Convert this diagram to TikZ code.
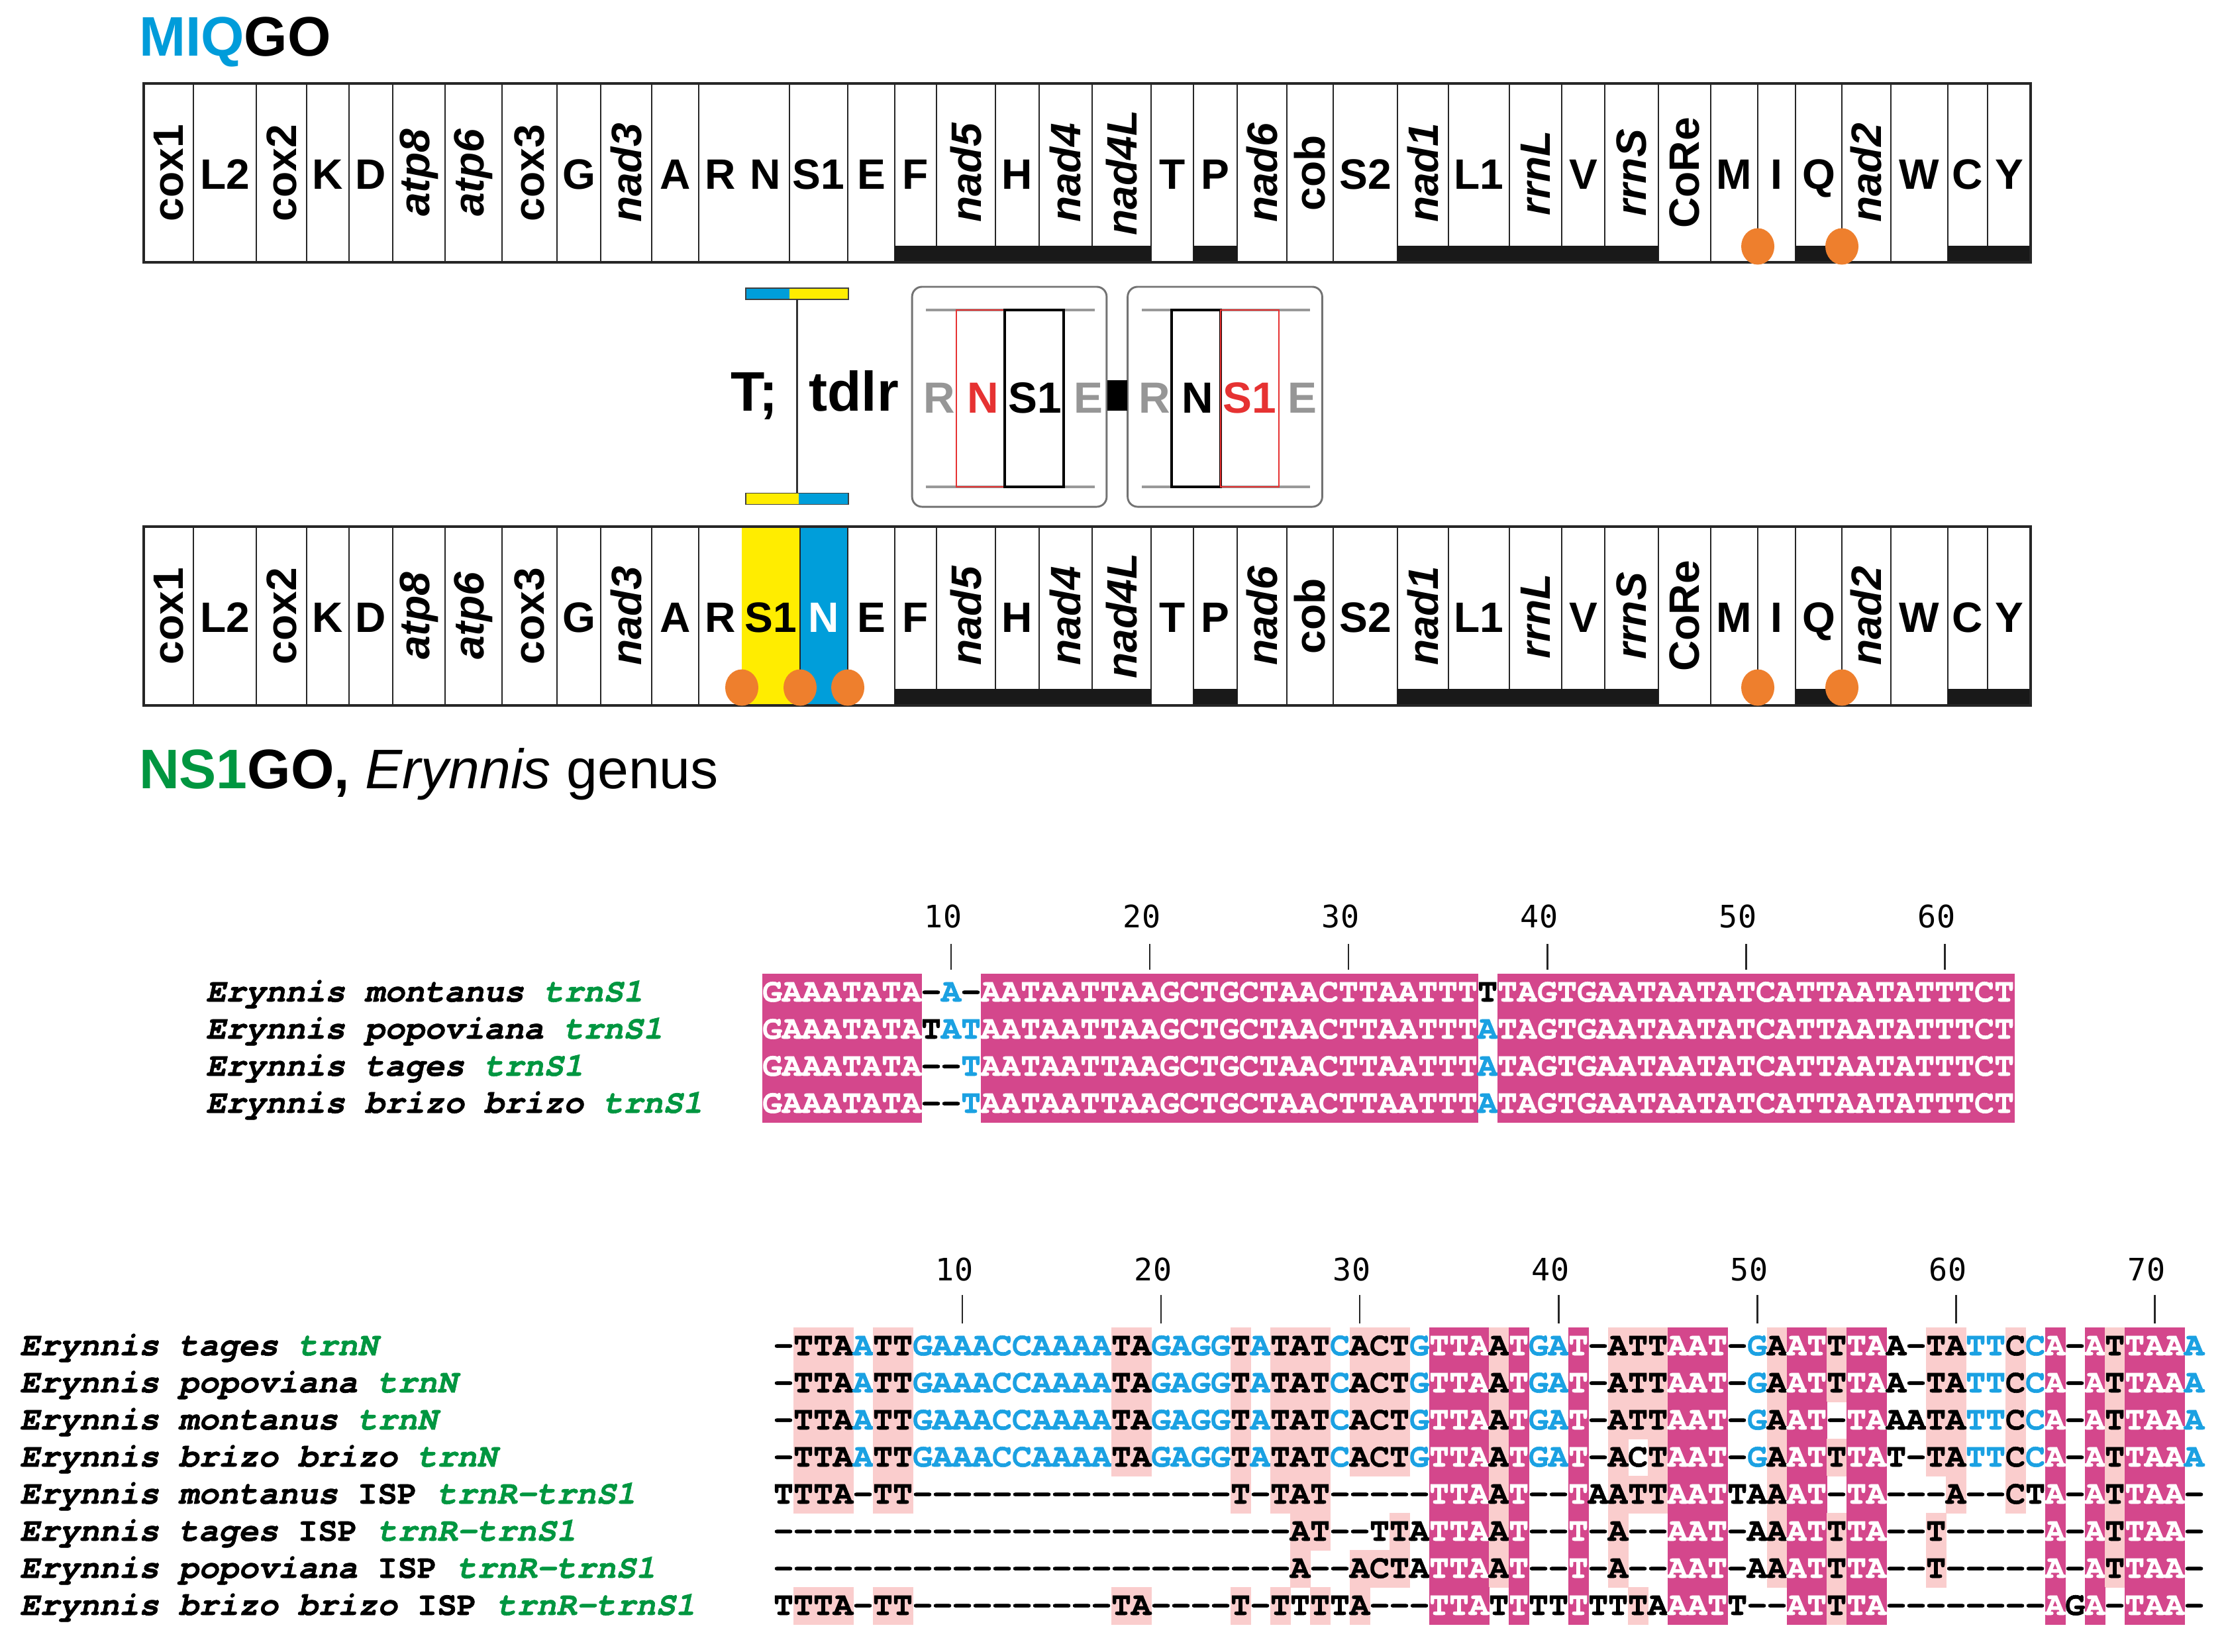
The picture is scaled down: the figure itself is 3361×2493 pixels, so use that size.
\documentclass[tikz,border=0pt]{standalone}
\usepackage{fontspec}
\setmainfont{Liberation Sans}
\newfontfamily\seqfont{texgyrecursor}[Extension=.otf,UprightFont=*-regular,BoldFont=*-bold,ItalicFont=*-italic,BoldItalicFont=*-bolditalic,BoldFeatures={FakeBold=1.2},BoldItalicFeatures={FakeBold=1.2}]
\newfontfamily\numfont{DejaVu Sans Mono}
\definecolor{miqblue}{RGB}{0,156,218}
\definecolor{nsgreen}{RGB}{0,150,64}
\definecolor{lblgreen}{RGB}{0,150,64}
\definecolor{seqmag}{RGB}{212,71,140}
\definecolor{seqpink}{RGB}{250,205,205}
\definecolor{seqblue}{RGB}{27,161,226}
\definecolor{dotorange}{RGB}{238,127,45}
\definecolor{yel}{RGB}{255,237,0}
\definecolor{nblue}{RGB}{0,158,218}
\definecolor{boxred}{RGB}{230,50,50}
\definecolor{lgray}{RGB}{150,150,150}
\makeatletter
\newcount\seq@col
\newcommand\seqrow[5]{%
  \def\seq@name{#1}\def\seq@x{#2}\def\seq@y{#3}\seq@col=0
  \seq@loop#4\@nil#5\@nil}
\def\seq@loop#1#2\@nil#3#4\@nil{%
  \advance\seq@col by 1
  \seq@cell{#1}{#3}%
  \if\relax\detokenize{#2}\relax\else\seq@loop#2\@nil#4\@nil\fi}
\def\seq@none{none}
\def\seqst@n{\def\seq@bg{none}\def\seq@fg{black}}
\def\seqst@p{\def\seq@bg{seqpink}\def\seq@fg{black}}
\def\seqst@m{\def\seq@bg{seqmag}\def\seq@fg{white}}
\def\seqst@b{\def\seq@bg{none}\def\seq@fg{seqblue}}
\def\seq@cell#1#2{%
  \pgfmathsetmacro\seq@cx{\seq@x+30*(\the\seq@col-1)}%
  \csname seqst@#2\endcsname
  \ifx\seq@bg\seq@none\else
    \fill[\seq@bg] (\seq@cx,\seq@y) rectangle ++(30.5,56.5);%
  \fi
  \node[seqchar,text=\seq@fg] (\seq@name-\the\seq@col) at (\seq@cx+15,\seq@y+42) {#1};}
\makeatother
\def\commongenes{217/292/cox1/r, 292/387/L2/u, 387/463/cox2/r, 463/527/K/u, 527/593/D/u, 593/672/atp8/i, 672/758/atp6/i, 758/841/cox3/r, 841/907/G/u, 907/984/nad3/i, 984/1055/A/u, 1055/1120/R/u, 1280/1351/E/u, 1351/1414/F/u, 1414/1503/nad5/i, 1503/1569/H/u, 1569/1649/nad4/i, 1649/1738/nad4L/i, 1738/1802/T/u, 1802/1868/P/u, 1868/1943/nad6/i, 1943/2013/cob/r, 2013/2110/S2/u, 2110/2187/nad1/i, 2187/2279/L1/u, 2279/2358/rrnL/i, 2358/2423/V/u, 2423/2504/rrnS/i, 2504/2583/CoRe/r, 2583/2654/M/u, 2654/2711/I/u, 2711/2781/Q/u, 2781/2855/nad2/i, 2855/2941/W/u, 2941/3001/C/u, 3001/3066/Y/u}
\begin{document}
\begin{tikzpicture}[x=0.24pt,y=-0.24pt,
  every node/.style={inner sep=0pt, outer sep=0pt},
  seqchar/.style={font=\seqfont\bfseries\fontsize{12}{12}\selectfont, anchor=base},
  rowlabel/.style={font=\seqfont\bfseries\fontsize{12}{12}\selectfont, anchor=base west},
  ticknum/.style={font=\numfont\fontsize{11.2}{12}\selectfont, anchor=base},
  tickline/.style={line width=0.7pt, black!85},
  genelabel/.style={font=\bfseries\fontsize{15.4}{16}\selectfont},
  gl-u/.style={anchor=base, yshift=-5.76pt},
  gl-r/.style={rotate=90, anchor=center},
  gl-i/.style={rotate=90, anchor=center, font=\bfseries\itshape\fontsize{15.4}{16}\selectfont},
  divider/.style={line width=0.6pt, black!85},
  outer/.style={line width=1.1pt, black!85},
  barblack/.style={fill=black!90},
  boxline/.style={line width=1pt, black!40},
  redrect/.style={draw=boxred, line width=0.55pt},
  blackrect/.style={draw=black, line width=0.75pt},
  boxlab/.style={font=\bfseries\fontsize{15.8}{16}\selectfont, anchor=base},
  midtext/.style={font=\bfseries\fontsize{20.2}{22}\selectfont, anchor=base},
  rbox/.style={draw=black!55, line width=0.7pt, rounded corners=3.6pt, minimum width=70.5pt, minimum height=79.7pt},
  brk/.style={draw=black!75, line width=0.35pt, minimum width=37.2pt, minimum height=4.1pt}
]
\useasboundingbox (0,0) rectangle (3361,2493);

% titles
\node[anchor=base west, font=\bfseries\fontsize{20.2}{22}\selectfont] (title) at (210,84) {\color{miqblue}MIQ\color{black}GO};
\node[anchor=base west, font=\fontsize{20.2}{22}\selectfont] (title2) at (210,1190) {\bfseries\color{nsgreen}NS1\color{black}GO, \mdseries\itshape Erynnis \upshape genus};

% top gene bar
\begin{scope}[shift={(0,126)}]
  \foreach \xa/\xb/\lab/\kind in \commongenes {
    \draw[divider] (\xa,0) -- (\xa,270);
    \node[genelabel,gl-\kind] (top-\lab) at ({(\xa+\xb)/2},135) {\lab};
  }
  \draw[divider] (1192,0) -- (1192,270);
  \node[genelabel,gl-u] (top-N) at (1156,135) {N};
  \node[genelabel,gl-u] (top-S1) at (1236,135) {S1};
  \foreach \xa/\xb in {1351/1738,1802/1868,2110/2504,2711/2781,2941/3066}
    \fill[barblack] (\xa,245) rectangle (\xb,270);
  \draw[outer] (217,0) rectangle (3066,270);
  \foreach \xd in {2654,2781}
    \fill[dotorange] (\xd,246) ellipse [x radius=6pt, y radius=6.6pt];
\end{scope}

% bottom gene bar
\begin{scope}[shift={(0,795)}]
  \fill[yel] (1120,0) rectangle (1208,270);
  \fill[nblue] (1208,0) rectangle (1280,270);
  \foreach \xa/\xb/\lab/\kind in \commongenes {
    \draw[divider] (\xa,0) -- (\xa,270);
    \node[genelabel,gl-\kind] (bot-\lab) at ({(\xa+\xb)/2},135) {\lab};
  }
  \draw[divider] (1208,0) -- (1208,270);
  \node[genelabel,gl-u] (bot-S1) at (1164,135) {S1};
  \node[genelabel,gl-u,text=white] (bot-N) at (1244,135) {N};
  \foreach \xa/\xb in {1351/1738,1802/1868,2110/2504,2711/2781,2941/3066}
    \fill[barblack] (\xa,245) rectangle (\xb,270);
  \draw[outer] (217,0) rectangle (3066,270);
  \foreach \xd in {1120,1208,1280,2654,2781}
    \fill[dotorange] (\xd,243) ellipse [x radius=6pt, y radius=6.6pt];
\end{scope}

% middle: bracket
\fill[nblue] (1126,435) rectangle (1192,452);
\fill[yel] (1192,435) rectangle (1281,452);
\node[brk] (brtop) at (1203.5,443.5) {};
\fill[yel] (1126,744) rectangle (1206,762);
\fill[nblue] (1206,744) rectangle (1281,762);
\node[brk] (brbot) at (1203.5,753) {};
\draw[line width=0.6pt, black!80] (brtop.south) -- (brbot.north);
\node[midtext] (tsemi) at (1139,620) {T;};
\node[midtext] (tdlr) at (1289,620) {tdlr};

% boxes
\node[rbox] (box1) at (1524,599) {};
\node[rbox] (box2) at (1849.5,599) {};
\draw[boxline] (1398,468) -- (1653,468);
\draw[boxline] (1398,735) -- (1653,735);
\draw[redrect] (1444,468) rectangle (1517,735);
\draw[blackrect] (1517,468) rectangle (1606,735);
\node[boxlab,text=lgray] (b1R) at (1418,623) {R};
\node[boxlab,text=boxred] (b1N) at (1484,623) {N};
\node[boxlab] (b1S) at (1563,623) {S1};
\node[boxlab,text=lgray] (b1E) at (1643,623) {E};
\draw[boxline] (1724,468) -- (1978,468);
\draw[boxline] (1724,735) -- (1978,735);
\draw[blackrect] (1769,468) rectangle (1843,735);
\draw[redrect] (1843,468) rectangle (1931,735);
\node[boxlab,text=lgray] (b2R) at (1743,623) {R};
\node[boxlab] (b2N) at (1808,623) {N};
\node[boxlab,text=boxred] (b2S) at (1887,623) {S1};
\node[boxlab,text=lgray] (b2E) at (1966,623) {E};
\node[fill=black, minimum width=7.2pt, minimum height=11pt] (link) at (1687,597) {};

% alignment 1
\foreach \c in {10,20,...,60} {
  \pgfmathsetmacro\tx{1151+30*\c-15}
  \draw[tickline] (\tx,1425) -- (\tx,1464);
  \node[ticknum] (aa\c) at (\tx-12,1400) {\c};
}
\node[rowlabel] (la1) at (311,1512) {\itshape Erynnis montanus \color{lblgreen}trnS1};
\node[rowlabel] (la2) at (311,1568) {\itshape Erynnis popoviana \color{lblgreen}trnS1};
\node[rowlabel] (la3) at (311,1624) {\itshape Erynnis tages \color{lblgreen}trnS1};
\node[rowlabel] (la4) at (311,1680) {\itshape Erynnis brizo brizo \color{lblgreen}trnS1};
\seqrow{sa1}{1151}{1470}{GAAATATA-A -AATAATTAA GCTGCTAACT TAATTTTTAG TGAATAATAT CATTAATATT TCT}{mmmmmmmmnb nmmmmmmmmm mmmmmmmmmm mmmmmmnmmm mmmmmmmmmm mmmmmmmmmm mmm}
\seqrow{sa2}{1151}{1526}{GAAATATATA TAATAATTAA GCTGCTAACT TAATTTATAG TGAATAATAT CATTAATATT TCT}{mmmmmmmmnb bmmmmmmmmm mmmmmmmmmm mmmmmmbmmm mmmmmmmmmm mmmmmmmmmm mmm}
\seqrow{sa3}{1151}{1582}{GAAATATA-- TAATAATTAA GCTGCTAACT TAATTTATAG TGAATAATAT CATTAATATT TCT}{mmmmmmmmnn bmmmmmmmmm mmmmmmmmmm mmmmmmbmmm mmmmmmmmmm mmmmmmmmmm mmm}
\seqrow{sa4}{1151}{1638}{GAAATATA-- TAATAATTAA GCTGCTAACT TAATTTATAG TGAATAATAT CATTAATATT TCT}{mmmmmmmmnn bmmmmmmmmm mmmmmmmmmm mmmmmmbmmm mmmmmmmmmm mmmmmmmmmm mmm}

% alignment 2
\foreach \c in {10,20,...,70} {
  \pgfmathsetmacro\tx{1168+30*\c-15}
  \draw[tickline] (\tx,1955) -- (\tx,1998);
  \node[ticknum] (bb\c) at (\tx-12,1933) {\c};
}
\node[rowlabel] (lb1) at (30,2046) {\itshape Erynnis tages \color{lblgreen}trnN};
\node[rowlabel] (lb2) at (30,2102) {\itshape Erynnis popoviana \color{lblgreen}trnN};
\node[rowlabel] (lb3) at (30,2158) {\itshape Erynnis montanus \color{lblgreen}trnN};
\node[rowlabel] (lb4) at (30,2214) {\itshape Erynnis brizo brizo \color{lblgreen}trnN};
\node[rowlabel] (lb5) at (30,2270) {{\itshape Erynnis montanus} ISP {\itshape\color{lblgreen}trnR-trnS1}};
\node[rowlabel] (lb6) at (30,2326) {{\itshape Erynnis tages} ISP {\itshape\color{lblgreen}trnR-trnS1}};
\node[rowlabel] (lb7) at (30,2382) {{\itshape Erynnis popoviana} ISP {\itshape\color{lblgreen}trnR-trnS1}};
\node[rowlabel] (lb8) at (30,2438) {{\itshape Erynnis brizo brizo} ISP {\itshape\color{lblgreen}trnR-trnS1}};
\seqrow{sb1}{1168}{2004}{-TTAATTGAA ACCAAAATAG AGGTATATCA CTGTTAATGA T-ATTAAT-G AATTTAA-TA TTCCA-ATTA AA}{npppbppbbb bbbbbbbppb bbbpbpppbp ppbmmmpmbb mnpppmmmnb pmmpmmnnpp bbpbmnmpmm mb}
\seqrow{sb2}{1168}{2060}{-TTAATTGAA ACCAAAATAG AGGTATATCA CTGTTAATGA T-ATTAAT-G AATTTAA-TA TTCCA-ATTA AA}{npppbppbbb bbbbbbbppb bbbpbpppbp ppbmmmpmbb mnpppmmmnb pmmpmmnnpp bbpbmnmpmm mb}
\seqrow{sb3}{1168}{2116}{-TTAATTGAA ACCAAAATAG AGGTATATCA CTGTTAATGA T-ATTAAT-G AAT-TAAATA TTCCA-ATTA AA}{npppbppbbb bbbbbbbppb bbbpbpppbp ppbmmmpmbb mnpppmmmnb pmmnmmnnpp bbpbmnmpmm mb}
\seqrow{sb4}{1168}{2172}{-TTAATTGAA ACCAAAATAG AGGTATATCA CTGTTAATGA T-ACTAAT-G AATTTAT-TA TTCCA-ATTA AA}{npppbppbbb bbbbbbbppb bbbpbpppbp ppbmmmpmbb mnpnpmmmnb pmmpmmnnpp bbpbmnmpmm mb}
\seqrow{sb5}{1168}{2228}{TTTA-TT--- ---------- ---T-TAT-- ---TTAAT-- TAATTAATTA AAT-TA---A --CTA-ATTA A-}{npppnppnnn nnnnnnnnnn nnnpnpppnn nnnmmmpmnn mnpppmmmnn pmmnmmnnnp nnpnmnmpmm mn}
\seqrow{sb6}{1168}{2284}{---------- ---------- ------AT-- TTATTAAT-- T-A--AAT-A AATTTA--T- ----A-ATTA A-}{nnnnnnnnnn nnnnnnnnnn nnnnnnppnn npnmmmpmnn mnpnnmmmnn pmmpmmnnpn nnnnmnmpmm mn}
\seqrow{sb7}{1168}{2340}{---------- ---------- ------A--A CTATTAAT-- T-A--AAT-A AATTTA--T- ----A-ATTA A-}{nnnnnnnnnn nnnnnnnnnn nnnnnnpnnp ppnmmmpmnn mnpnnmmmnn pmmpmmnnpn nnnnmnmpmm mn}
\seqrow{sb8}{1168}{2396}{TTTA-TT--- -------TA- ---T-TTTTA ---TTATTTT TTTTAAATT- -ATTTA---- ----AGA-TA A-}{npppnppnnn nnnnnnnppn nnnpnpnpnp nnnmmmnmnn mnnpnmmmnn nmmpmmnnnn nnnnmnmnmm mn}
\end{tikzpicture}
\end{document}
